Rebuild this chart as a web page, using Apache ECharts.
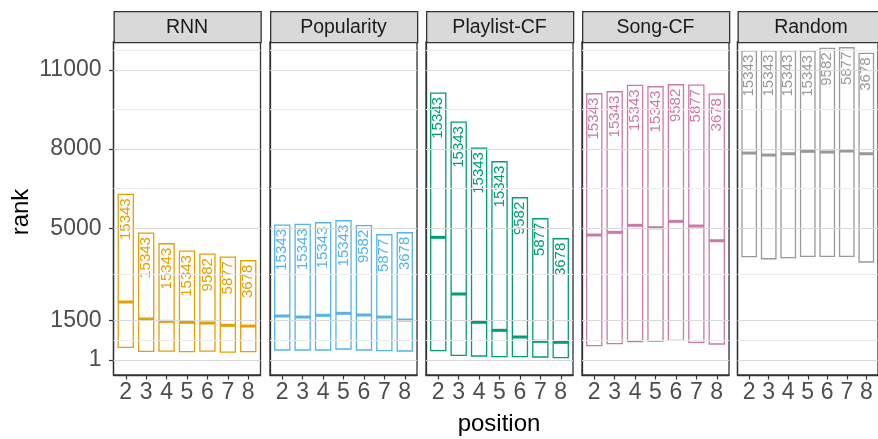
<!DOCTYPE html>
<html>
<head>
<meta charset="utf-8">
<script src="https://cdn.jsdelivr.net/npm/echarts@6/dist/echarts.min.js"></script>
<style>
  html, body { margin: 0; padding: 0; background: #ffffff; }
  #chart { width: 878px; height: 439px; }
</style>
</head>
<body>
<div id="chart"></div>
<script>
// Rank summaries per recommender and playlist position
const positions = [2, 3, 4, 5, 6, 7, 8];
const methods = ['RNN', 'Popularity', 'Playlist-CF', 'Song-CF', 'Random'];
const counts = [15343, 15343, 15343, 15343, 9582, 5877, 3678];

const rnnLower = [482, 330, 341, 315, 341, 303, 315];
const rnnMedian = [2200, 1555, 1468, 1430, 1403, 1316, 1289];
const rnnUpper = [6284, 4816, 4410, 4133, 4020, 3906, 3766];

const popLower = [380, 380, 380, 418, 380, 354, 342];
const popMedian = [1670, 1631, 1696, 1772, 1708, 1631, 1518];
const popUpper = [5120, 5146, 5207, 5283, 5094, 4752, 4828];

const plcfLower = [354, 179, 153, 127, 127, 115, 88];
const plcfMedian = [4653, 2504, 1431, 1127, 873, 710, 672];
const plcfUpper = [10125, 9026, 8040, 7521, 6155, 5359, 4600];

const songLower = [543, 619, 695, 721, 748, 672, 608];
const songMedian = [4741, 4843, 5109, 5018, 5260, 5082, 4525];
const songUpper = [10099, 10175, 10417, 10365, 10441, 10429, 10088];

const randLower = [3918, 3842, 3880, 3933, 3933, 3933, 3717];
const randMedian = [7850, 7774, 7824, 7915, 7888, 7926, 7824];
const randUpper = [11729, 11729, 11729, 11718, 11821, 11844, 11631];

const yBreaks = [1, 1500, 5000, 8000, 11000];
const yMinorBreaks = [750.5, 3250, 6500, 9500, 11749.5];

const lowers = [rnnLower, popLower, plcfLower, songLower, randLower];
const medians = [rnnMedian, popMedian, plcfMedian, songMedian, randMedian];
const uppers = [rnnUpper, popUpper, plcfUpper, songUpper, randUpper];
const colors = ['#E69F00', '#56B4E9', '#009E73', '#CC79A7', '#999999'];

// facet layout
const FONT = '"Liberation Sans", Arial, Helvetica, sans-serif';
const panelLefts = [113.5, 270, 426, 582, 737.5];
const panelWidth = 147;
const panelTop = 42;
const panelHeight = 333;
const stripTop = 11;
const stripHeight = 31;

const grids = [], xAxes = [], yAxes = [], series = [], graphics = [];

methods.forEach((m, i) => {
  grids.push({
    left: panelLefts[i], top: panelTop, width: panelWidth, height: panelHeight,
    show: true, backgroundColor: '#ffffff', borderColor: '#333333', borderWidth: 1.3,
    containLabel: false
  });
  xAxes.push({
    type: 'value', gridIndex: i, min: 1.4, max: 8.6, position: 'bottom',
    axisLine: { show: true, onZero: false, lineStyle: { color: '#333333', width: 1.3 } },
    splitLine: { show: false },
    axisTick: { show: true, length: 4.5, customValues: positions, lineStyle: { color: '#333333', width: 1.2 } },
    axisLabel: { show: true, customValues: positions, fontSize: 23, color: '#4D4D4D', fontFamily: FONT, margin: 6,
                 formatter: v => String(v) }
  });
  yAxes.push({
    type: 'value', gridIndex: i, min: -568, max: 12062, position: 'left',
    axisLine: { show: true, onZero: false, lineStyle: { color: '#333333', width: 1.3 } },
    splitLine: { show: false },
    axisTick: { show: i === 0, length: 4.5, customValues: yBreaks, lineStyle: { color: '#333333', width: 1.2 } },
    axisLabel: { show: i === 0, customValues: yBreaks, fontSize: 23, color: '#4D4D4D', fontFamily: FONT, margin: 12,
                 formatter: v => String(v) }
  });

  // panel grid lines
  series.push({
    type: 'line', xAxisIndex: i, yAxisIndex: i, data: [], z: 1, silent: true,
    markLine: {
      silent: true, animation: false, symbol: ['none', 'none'], label: { show: false },
      emphasis: { disabled: true },
      data: yMinorBreaks.map(v => ({ yAxis: v, lineStyle: { color: '#EBEBEB', width: 1, type: 'solid' } }))
        .concat(yBreaks.map(v => ({ yAxis: v, lineStyle: { color: '#D9D9D9', width: 1.2, type: 'solid' } })))
    }
  });

  const data = positions.map((p, k) => [p, lowers[i][k], medians[i][k], uppers[i][k], counts[k]]);
  const color = colors[i];
  series.push({
    type: 'custom', name: m, xAxisIndex: i, yAxisIndex: i, z: 3, silent: true, clip: false,
    data: data,
    encode: { x: 0, y: [1, 2, 3] },
    renderItem: function (params, api) {
      const x = api.value(0);
      const lo = api.coord([x, api.value(1)]);
      const md = api.coord([x, api.value(2)]);
      const hi = api.coord([x, api.value(3)]);
      const w = api.size([0.74, 0])[0];
      return {
        type: 'group',
        children: [
          { type: 'rect', shape: { x: lo[0] - w / 2, y: hi[1], width: w, height: lo[1] - hi[1] },
            style: { fill: 'none', stroke: color, lineWidth: 1.3 } },
          { type: 'line', shape: { x1: md[0] - w / 2, y1: md[1], x2: md[0] + w / 2, y2: md[1] },
            style: { stroke: color, lineWidth: 3 } },
          { type: 'text', x: hi[0], y: hi[1] + 4, rotation: Math.PI / 2,
            style: { text: String(api.value(4)), fill: color, font: '15px ' + FONT, align: 'right', verticalAlign: 'middle' } }
        ]
      };
    }
  });

  // facet strip
  graphics.push({
    type: 'rect', left: panelLefts[i], top: stripTop,
    shape: { width: panelWidth, height: stripHeight },
    style: { fill: '#D9D9D9', stroke: '#333333', lineWidth: 1.3 }, z: 10
  });
  graphics.push({
    type: 'text', x: panelLefts[i] + panelWidth / 2, y: stripTop + stripHeight / 2 + 1,
    style: { text: m, fill: '#1A1A1A', font: '19.5px ' + FONT, align: 'center', verticalAlign: 'middle' }, z: 11
  });
});

graphics.push({
  type: 'text', x: 499, y: 424,
  style: { text: 'position', fill: '#000000', font: '24px ' + FONT, align: 'center', verticalAlign: 'middle' }
});
graphics.push({
  type: 'text', x: 21, y: 212, rotation: Math.PI / 2,
  style: { text: 'rank', fill: '#000000', font: '24px ' + FONT, align: 'center', verticalAlign: 'middle' }
});

const chart = echarts.init(document.getElementById('chart'), null, { renderer: 'canvas' });
chart.setOption({
  backgroundColor: '#ffffff',
  animation: false,
  grid: grids,
  xAxis: xAxes,
  yAxis: yAxes,
  series: series,
  graphic: graphics
});
</script>
</body>
</html>
